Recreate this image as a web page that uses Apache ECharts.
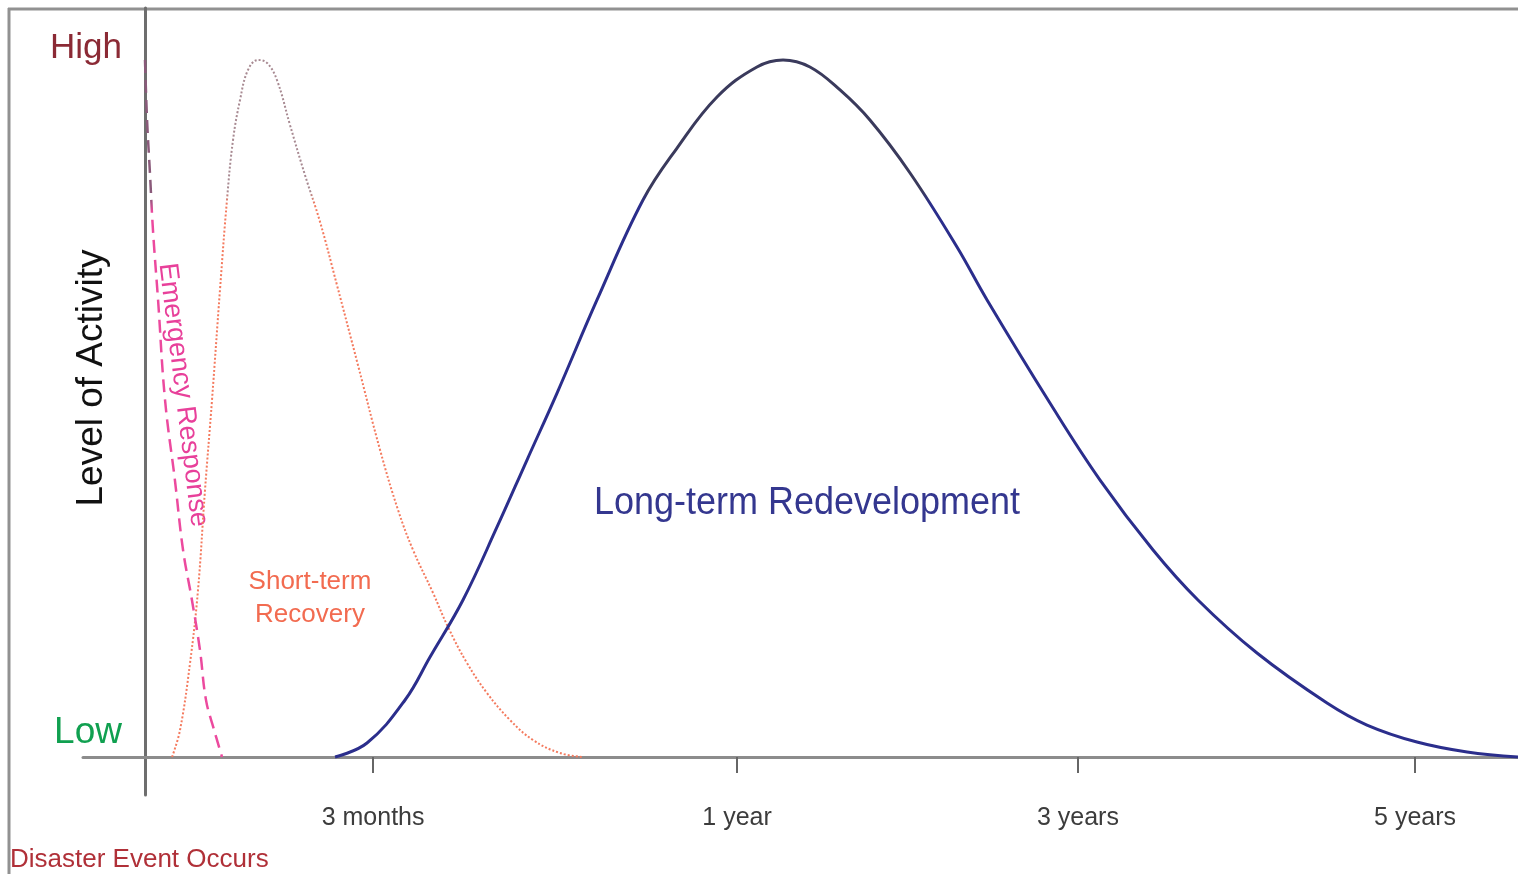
<!DOCTYPE html>
<html>
<head>
<meta charset="utf-8">
<title>Disaster recovery activity</title>
<script src="https://cdn.jsdelivr.net/npm/echarts@6.0.0/dist/echarts.min.js"></script>
<style>
  html, body { margin: 0; padding: 0; background: #fff; }
  #chart { width: 1518px; height: 874px; }
</style>
</head>
<body>
<div id="chart"></div>
<script>
// time axis is schematic: 0 = disaster event, 100 = right edge
const tickValues = [16.61, 43.12, 67.95, 92.5];
const tickLabels = ['3 months', '1 year', '3 years', '5 years'];

const levelValues = [3.44, 101.7];
const levelLabels = ['Low', 'High'];

// [time, level of activity]
const emergency = [
  [0, 100], [0.15, 91.4], [0.36, 83.8], [0.58, 75.6], [0.95, 65.6], [1.46, 51.2],
  [2.18, 39.7], [2.77, 29.7], [3.42, 22.5], [4.0, 15.4], [4.44, 8.2], [5.03, 3.9], [5.61, 0]
];
const shortTerm = [
  [1.97, 0], [2.55, 3.87], [3.28, 13.49], [3.86, 23.96], [4.37, 38.31], [4.88, 51.22],
  [5.46, 67.0], [5.97, 79.91], [6.41, 88.52], [6.92, 94.26], [7.50, 98.57], [8.23, 100],
  [8.89, 99.57], [9.61, 97.13], [10.56, 90.67], [11.65, 83.50], [12.75, 76.76], [13.98, 67.72],
  [15.51, 56.24], [17.12, 44.05], [18.43, 35.44], [19.52, 29.70], [20.98, 23.53], [22.07, 18.65],
  [23.45, 13.49], [24.91, 9.18], [26.58, 5.31], [28.26, 2.44], [30.23, 0.57], [31.90, 0]
];
const longTerm = [
  [13.84, 0], [16.17, 2.01], [18.94, 8.18], [20.76, 14.35], [23.16, 22.53], [25.64, 33.0],
  [27.82, 42.61], [30.01, 52.22], [32.92, 65.57], [36.27, 79.91], [38.75, 87.37], [41.66, 94.69],
  [44.57, 99.0], [46.47, 100], [48.43, 99.0], [50.62, 95.70], [52.80, 91.39], [55.72, 83.79],
  [59.14, 73.17], [61.33, 65.57], [65.91, 50.79], [69.56, 39.74], [73.42, 29.70], [76.69, 22.53],
  [80.99, 14.92], [86.09, 7.75], [89.0, 4.59], [92.64, 2.15], [96.29, 0.72], [100, 0]
];

const font = 'Liberation Sans, Arial, sans-serif';

function fade(top, bottom, at) {
  return new echarts.graphic.LinearGradient(0, 0, 0, 1, [
    { offset: 0, color: top },
    { offset: at - 0.01, color: top },
    { offset: at + 0.01, color: bottom },
    { offset: 1, color: bottom }
  ]);
}

const chart = echarts.init(document.getElementById('chart'));

const option = {
  animation: false,
  backgroundColor: '#fff',
  grid: { left: 83, right: 0, top: 8, bottom: 79, outerBoundsMode: 'none', containLabel: false },
  xAxis: {
    type: 'value',
    min: -4.516,
    max: 100,
    axisLine: { onZero: true, lineStyle: { color: '#8c8c8c', width: 3 } },
    axisTick: { show: true, customValues: tickValues, length: 16, lineStyle: { color: '#666', width: 2 } },
    axisLabel: {
      customValues: tickValues,
      formatter: function (v) {
        const i = tickValues.indexOf(v);
        return i >= 0 ? tickLabels[i] : '';
      },
      margin: 11,
      fontSize: 25,
      fontFamily: font,
      color: '#3c3c3c'
    },
    splitLine: { show: false }
  },
  yAxis: {
    type: 'value',
    min: -5.45,
    max: 107.46,
    axisLine: { show: true, onZero: true, lineStyle: { color: '#6e6e6e', width: 3 } },
    axisTick: { show: false },
    axisLabel: {
      customValues: levelValues,
      formatter: function (v) {
        const i = levelValues.indexOf(v);
        if (i < 0) return '';
        return i === 0 ? '{low|' + levelLabels[i] + '}' : '{high|' + levelLabels[i] + '}';
      },
      margin: -39,
      rich: {
        low: { fontSize: 37, fontFamily: font, color: '#10a050' },
        high: { fontSize: 35, fontFamily: font, color: '#8b2a35' }
      }
    },
    splitLine: { show: false }
  },
  series: [
    {
      name: 'Emergency Response',
      type: 'line',
      data: emergency,
      smooth: 0.4,
      showSymbol: false,
      lineStyle: { color: fade('#8a5a7a', '#ec4a9e', 0.21), width: 2.5, type: [13, 7] },
      z: 3
    },
    {
      name: 'Short-term Recovery',
      type: 'line',
      data: shortTerm,
      smooth: 0.4,
      showSymbol: false,
      lineStyle: { color: fade('#a88a92', '#f47a5e', 0.2), width: 2, type: [2, 2] },
      z: 2
    },
    {
      name: 'Long-term Redevelopment',
      type: 'line',
      data: longTerm,
      smooth: 0.4,
      showSymbol: false,
      lineStyle: { color: fade('#3a3a5c', '#2b2e8c', 0.2), width: 3 },
      z: 4
    }
  ],
  graphic: [
    { type: 'line', shape: { x1: 8, y1: 9, x2: 1518, y2: 9 }, style: { stroke: '#919191', lineWidth: 3 } },
    { type: 'line', shape: { x1: 9, y1: 8, x2: 9, y2: 874 }, style: { stroke: '#919191', lineWidth: 3 } },
    {
      type: 'text', x: 92, y: 378, rotation: Math.PI / 2,
      style: { text: 'Level of Activity', fontSize: 37, fontFamily: font, fill: '#111', align: 'center', verticalAlign: 'middle' }
    },
    {
      type: 'text', x: 183, y: 395, rotation: -83 * Math.PI / 180,
      style: { text: 'Emergency Response', fontSize: 27, fontFamily: font, fill: '#e8409a', align: 'center', verticalAlign: 'middle' }
    },
    {
      type: 'text', x: 310, y: 598,
      style: { text: 'Short-term\nRecovery', fontSize: 26, lineHeight: 33, fontFamily: font, fill: '#f26b50', align: 'center', verticalAlign: 'middle' }
    },
    {
      type: 'text', x: 807, y: 503, scaleY: 1.1,
      style: { text: 'Long-term Redevelopment', fontSize: 36, fontFamily: font, fill: '#34378f', align: 'center', verticalAlign: 'middle' }
    },
    {
      type: 'text', x: 10, y: 860,
      style: { text: 'Disaster Event Occurs', fontSize: 26, fontFamily: font, fill: '#b03038', align: 'left', verticalAlign: 'middle' }
    }
  ]
};

chart.setOption(option);
window.addEventListener('resize', function () {
  chart.resize();
});
</script>
</body>
</html>
